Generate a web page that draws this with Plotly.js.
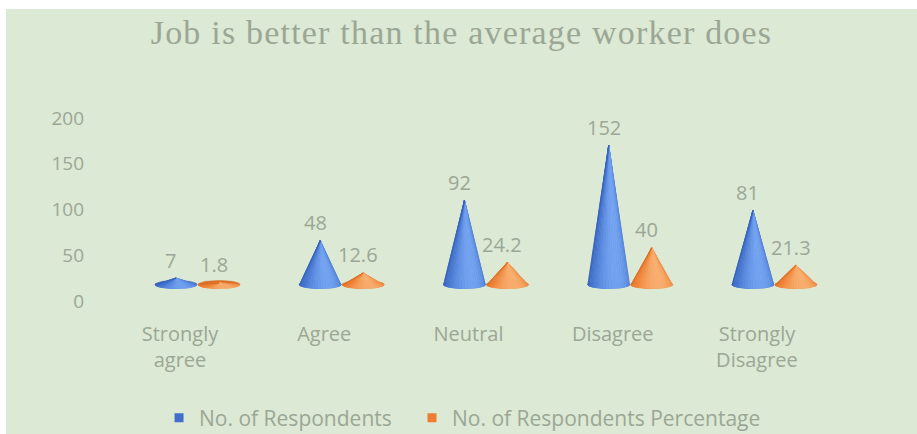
<!DOCTYPE html>
<html>
<head>
<meta charset="utf-8">
<script src="https://cdn.plot.ly/plotly-3.0.1.min.js"></script>
<style>
  html, body { margin: 0; padding: 0; background: #ffffff; width: 917px; height: 434px; overflow: hidden; }
  #chart { position: absolute; left: 6px; top: 9px; width: 911px; height: 425px; }
  #chart .gtitle { letter-spacing: 1.2px; }
</style>
</head>
<body>
<div id="chart"></div>
<script>
// ---- data ----
const categories = ['Strongly<br>agree', 'Agree', 'Neutral', 'Disagree', 'Strongly<br>Disagree'];
const respondents = [7, 48, 92, 152, 81];
const percentage = [1.8, 12.6, 24.2, 40, 21.3];
const seriesNames = ['No. of Respondents', 'No. of Respondents Percentage'];
const chartTitle = 'Job is better than the average worker does';

// ---- style ----
const BG = '#dce9d4';
const TXT = '#9ba794';
const FONT = '"Open Sans", "Noto Sans", sans-serif';
const palettes = [
  { dark: [36, 70, 150], mid: [64, 112, 204], light: [118, 166, 244] },
  { dark: [182, 85, 21], mid: [237, 125, 49], light: [250, 178, 115] }
];
const offsets = [-0.028, 0.27];   // position of each series within a category
const halfW = 0.146;              // cone base half-width (x units)
const baseB = 4.4;                // base ellipse half-height (y units)
const FLOOR = 18;                 // 3D floor offset
const Y0 = -20.8, Y1 = 208.7;
const NSTRIP = 22;

function mix(c1, c2, t) {
  return 'rgb(' + c1.map((v, i) => Math.round(v + (c2[i] - v) * t)).join(',') + ')';
}
function shade(p, t) {
  return t >= 0 ? mix(p.mid, p.light, Math.pow(t, 1.5)) : mix(p.mid, p.dark, Math.min(1, -t * 1.1));
}

const traces = [];
const annotations = [];
[respondents, percentage].forEach((vals, s) => {
  const p = palettes[s];
  vals.forEach((v, i) => {
    const cx = i + offsets[s];
    // full base ellipse (back)
    const ex = [], ey = [];
    for (let k = 0; k <= 48; k++) {
      const th = 2 * Math.PI * k / 48;
      ex.push(cx + halfW * Math.cos(th));
      ey.push(baseB * Math.sin(th));
    }
    traces.push({
      type: 'scatter', mode: 'lines', x: ex, y: ey, yaxis: 'y2',
      fill: 'toself', fillcolor: mix(p.mid, p.dark, 0.35),
      line: { width: 0.5, color: mix(p.mid, p.dark, 0.35) },
      hoverinfo: 'skip', showlegend: false
    });
    // shaded strips from apex to front half of base
    for (let k = 0; k < NSTRIP; k++) {
      const t0 = Math.PI * k / NSTRIP, t1 = Math.PI * (k + 1) / NSTRIP;
      const tm = (t0 + t1) / 2;
      const light = Math.cos(tm - (Math.PI / 2 - 0.35));
      const col = shade(p, light - 0.05);
      traces.push({
        type: 'scatter', mode: 'lines', yaxis: 'y2',
        x: [cx, cx + halfW * Math.cos(t0), cx + halfW * Math.cos(t1), cx],
        y: [v, -baseB * Math.sin(t0), -baseB * Math.sin(t1), v],
        fill: 'toself', fillcolor: col, line: { width: 0.6, color: col },
        hoverinfo: 'skip', showlegend: false
      });
    }
    annotations.push({
      x: cx, y: v, xref: 'x', yref: 'y2', text: String(v), showarrow: false,
      xanchor: 'center', yanchor: 'middle', xshift: -5, yshift: 18,
      font: { family: FONT, size: 20, color: TXT }
    });
  });
});

// legend entries (one legend box per series, placed like the original)
seriesNames.forEach((name, s) => {
  traces.push({
    type: 'scatter', mode: 'markers', x: [null], y: [null], name: name,
    legend: s === 0 ? 'legend' : 'legend2',
    marker: { symbol: 'square', size: 9, color: mix(palettes[s].mid, palettes[s].mid, 0) },
    hoverinfo: 'skip', showlegend: true
  });
});

const legendBase = {
  orientation: 'h', xanchor: 'left', y: -0.467, yanchor: 'middle',
  font: { family: FONT, size: 21, color: TXT }, bgcolor: 'rgba(0,0,0,0)'
};

const layout = {
  width: 911, height: 425,
  paper_bgcolor: BG, plot_bgcolor: BG,
  margin: { l: 84, r: 37, t: 101, b: 114, autoexpand: false },
  title: {
    text: chartTitle, x: 0.5, xanchor: 'center', y: 0.945, yanchor: 'middle',
    font: { family: '"Liberation Serif", "DejaVu Serif", serif', size: 34, color: TXT }
  },
  xaxis: {
    range: [-0.624, 4.853], tickvals: [0, 1, 2, 3, 4], ticktext: categories,
    showgrid: false, zeroline: false, showline: false, ticks: '',
    tickfont: { family: FONT, size: 20, color: TXT }, fixedrange: true
  },
  yaxis: {
    range: [Y0, Y1], tickvals: [0, 50, 100, 150, 200],
    showgrid: false, zeroline: false, showline: false, ticks: '',
    ticklabelstandoff: 5,
    tickfont: { family: FONT, size: 19, color: TXT }, fixedrange: true
  },
  yaxis2: {
    overlaying: 'y', range: [Y0 - FLOOR, Y1 - FLOOR], visible: false, fixedrange: true
  },
  showlegend: true,
  legend: Object.assign({}, legendBase, { x: 0.0874 }),
  legend2: Object.assign({}, legendBase, { x: 0.4076 }),
  annotations: annotations
};

Plotly.newPlot('chart', traces, layout, { displayModeBar: false, staticPlot: true });
</script>
</body>
</html>
